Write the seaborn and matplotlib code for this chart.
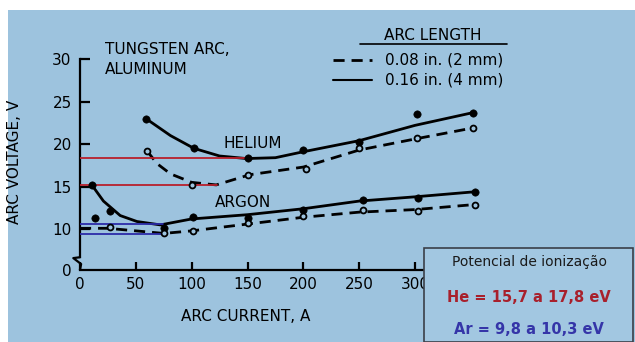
import numpy as np
import pandas as pd
import matplotlib
matplotlib.use("Agg")
import matplotlib.pyplot as plt
import seaborn as sns
from matplotlib.patches import Rectangle
from matplotlib.lines import Line2D

# tracado das curvas
he_4mm_x = [59, 81, 102, 125, 149, 175, 200, 250, 300, 352]
he_4mm_y = [23.0, 21.0, 19.5, 18.6, 18.3, 18.4, 19.1, 20.4, 22.2, 23.7]
he_2mm_x = [60, 69, 81, 100, 122, 152, 200, 250, 300, 352]
he_2mm_y = [19.2, 17.7, 16.5, 15.5, 15.2, 16.4, 17.3, 19.3, 20.6, 21.9]
ar_4mm_x = [10, 21, 36, 51, 72, 100, 150, 200, 250, 300, 354]
ar_4mm_y = [15.3, 13.3, 11.6, 10.9, 10.5, 11.2, 11.7, 12.4, 13.3, 13.8, 14.4]
ar_2mm_x = [0, 25, 50, 75, 100, 150, 200, 250, 300, 354]
ar_2mm_y = [10.1, 10.1, 9.8, 9.5, 9.8, 10.6, 11.4, 12.0, 12.3, 12.9]

# pontos medidos
he_4mm_px = [59, 102, 150, 200, 250, 302, 352]
he_4mm_py = [23.0, 19.5, 18.4, 19.3, 20.3, 23.5, 23.7]
he_2mm_px = [60, 100, 150, 202, 250, 302, 352]
he_2mm_py = [19.2, 15.2, 16.4, 17.1, 19.5, 20.7, 21.9]
ar_4mm_px = [11, 13, 27, 75, 101, 150, 200, 253, 303, 354]
ar_4mm_py = [15.2, 11.3, 12.1, 10.1, 11.4, 11.3, 12.2, 13.4, 13.7, 14.4]
ar_2mm_px = [27, 75, 101, 150, 200, 253, 303, 354]
ar_2mm_py = [10.2, 9.5, 9.8, 10.7, 11.5, 12.2, 12.1, 12.8]

# linhas de potencial de ionizacao
he_lvl = [18.4, 15.2]
he_lvl_end = [150, 123]
ar_lvl = [10.6, 9.4]
ar_lvl_end = [74, 74]

x_ticks = [0, 50, 100, 150, 200, 250, 300]
y_ticks = [10, 15, 20, 25, 30]

W, H = 635, 342
def fp(x, y):
    return x / W, 1 - y / H

sns.set_style("ticks")
plt.rcParams['font.family'] = ['DejaVu Sans']
for k in ["text.color", "axes.labelcolor", "xtick.color", "ytick.color"]:
    plt.rcParams[k] = "black"

fig = plt.figure(figsize=(6.35, 3.42), dpi=100)
fig.patch.set_facecolor("white")
bg = "#9dc3de"
fig.patches.append(Rectangle(fp(8, 342), (W - 8) / W, (342 - 10) / H,
                             transform=fig.transFigure, facecolor=bg,
                             edgecolor="none", zorder=-1))

ax = fig.add_axes([80 / W, 1 - 270 / H, 402 / W, 211 / H])
ax.set_facecolor("none")

sns.lineplot(x=he_4mm_x, y=he_4mm_y, ax=ax, color="black", lw=2, sort=False)
sns.lineplot(x=ar_4mm_x, y=ar_4mm_y, ax=ax, color="black", lw=2, sort=False)
sns.lineplot(x=he_2mm_x, y=he_2mm_y, ax=ax, color="black", lw=2, sort=False,
             linestyle=(0, (4, 2.5)))
sns.lineplot(x=ar_2mm_x, y=ar_2mm_y, ax=ax, color="black", lw=2, sort=False,
             linestyle=(0, (4, 2.5)))

sns.scatterplot(x=he_4mm_px, y=he_4mm_py, ax=ax, color="black", s=28,
                edgecolor="black", zorder=5)
sns.scatterplot(x=ar_4mm_px, y=ar_4mm_py, ax=ax, color="black", s=28,
                edgecolor="black", zorder=5)
sns.scatterplot(x=he_2mm_px, y=he_2mm_py, ax=ax, color=bg, s=18,
                edgecolor="black", linewidth=1.3, zorder=5)
sns.scatterplot(x=ar_2mm_px, y=ar_2mm_py, ax=ax, color=bg, s=18,
                edgecolor="black", linewidth=1.3, zorder=5)

for lv, e in zip(he_lvl, he_lvl_end):
    ax.plot([0, e], [lv, lv], color="#b8202c", lw=1.3, zorder=4)
for lv, e in zip(ar_lvl, ar_lvl_end):
    ax.plot([0, e], [lv, lv], color="#2b2ba8", lw=1.3, zorder=4)

ax.set_xlim(0, 360)
ax.set_ylim(5.2, 30)
ax.set_xticks(x_ticks)
ax.set_yticks([5.2] + y_ticks)
ax.set_yticklabels(["0"] + [str(t) for t in y_ticks])
ax.set_xticklabels([str(t) for t in x_ticks])
sns.despine(ax=ax)
ax.spines["left"].set_bounds(6.7, 30)
for s in ["left", "bottom"]:
    ax.spines[s].set_linewidth(1.6)
    ax.spines[s].set_color("black")
ax.tick_params(axis="y", direction="in", length=7, width=1.6, labelsize=11, pad=6)
ax.tick_params(axis="x", direction="in", length=6, width=1.6, labelsize=11, pad=5)
ax.yaxis.get_major_ticks()[0].tick1line.set_visible(False)
# quebra do eixo
ax.plot([0, -6, 1, 0], [6.7, 6.6, 5.9, 5.2], color="black", lw=1.6,
        clip_on=False, zorder=6)

ax.set_xlabel("ARC CURRENT, A", fontsize=11)
ax.set_ylabel("ARC VOLTAGE, V", fontsize=11)
ax.xaxis.set_label_coords((246 - 80) / 402, (270 - 309) / 211)
ax.yaxis.set_label_coords((22 - 80) / 402, (270 - 162) / 211)

ax.text(155, 20.1, "HELIUM", fontsize=11, ha="center", va="center")
ax.text(146, 13.1, "ARGON", fontsize=11, ha="center", va="center")

fig.text(*fp(105, 50), "TUNGSTEN ARC,", fontsize=11, va="center")
fig.text(*fp(105, 69), "ALUMINUM", fontsize=11, va="center")
fig.text(*fp(433, 35), "ARC LENGTH", fontsize=11, ha="center", va="center")
fig.add_artist(Line2D([360 / W, 507 / W], [1 - 44 / H] * 2, color="black", lw=1.2))
fig.add_artist(Line2D([333 / W, 372 / W], [1 - 60 / H] * 2, color="black", lw=2,
                      linestyle=(0, (4, 2.5))))
fig.add_artist(Line2D([333 / W, 372 / W], [1 - 80 / H] * 2, color="black", lw=1.5))
fig.text(*fp(385, 60), "0.08 in. (2 mm)", fontsize=11, va="center")
fig.text(*fp(385, 80), "0.16 in. (4 mm)", fontsize=11, va="center")

box = Rectangle(fp(424, 342), (633 - 424) / W, (342 - 248) / H,
                transform=fig.transFigure, facecolor="#a2c7e1",
                edgecolor="#3a3f48", lw=1.2, zorder=3)
fig.patches.append(box)
fig.text(*fp(529, 262), "Potencial de ionização", fontsize=10, ha="center",
         va="center", color="#1a1a1a", zorder=4)
fig.text(*fp(529, 297), "He = 15,7 a 17,8 eV", fontsize=10.5, ha="center",
         va="center", color="#a8202c", fontweight="bold", zorder=4)
fig.text(*fp(529, 330), "Ar = 9,8 a 10,3 eV", fontsize=10.5, ha="center",
         va="center", color="#3535a8", fontweight="bold", zorder=4)

fig.savefig("out.png", dpi=100)
